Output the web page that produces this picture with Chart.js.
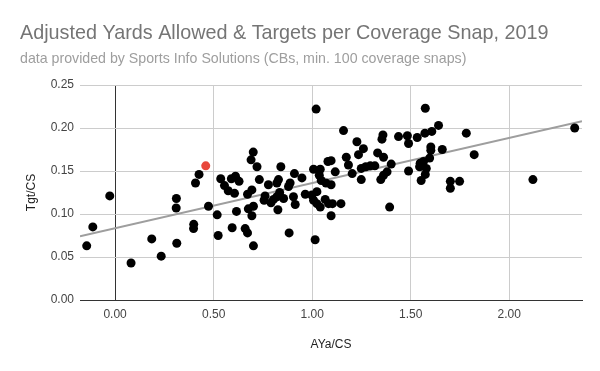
<!DOCTYPE html>
<html>
<head>
<meta charset="utf-8">
<title>AYa/CS vs Tgt/CS</title>
<script src="https://cdn.jsdelivr.net/npm/chart.js@4.4.1/dist/chart.umd.min.js"></script>
<style>
  html, body { margin: 0; padding: 0; background: #fff; }
  #wrap { width: 600px; height: 371px; }
</style>
</head>
<body>
<div id="wrap"><canvas id="coverageChart" width="600" height="371"></canvas></div>
<script>
// Chart text
const chartTitle = 'Adjusted Yards Allowed & Targets per Coverage Snap, 2019';
const chartSubtitle = 'data provided by Sports Info Solutions (CBs, min. 100 coverage snaps)';
const xTitle = 'AYa/CS';
const yTitle = 'Tgt/CS';

// Axis ranges / tick steps
const xMin = -0.178, xMax = 2.369, xStep = 0.5;
const yMin = 0, yMax = 0.25, yStep = 0.05;

// Adjusted yards allowed per coverage snap (x) and targets per coverage snap (y), one per CB
const ayaPerCs = [
    -0.144, -0.113, -0.027, 0.081, 0.186, 0.234, 0.311, 0.310, 0.313, 0.399,
    0.398, 0.408, 0.426, 0.474, 0.518, 0.523, 0.536, 0.555, 0.574, 0.590,
    0.611, 0.629, 0.606, 0.594, 0.616, 0.660, 0.672, 0.672, 0.694, 0.690,
    0.701, 0.676, 0.702, 0.694, 0.702, 0.720, 0.732, 0.761, 0.756, 0.778,
    0.791, 0.804, 0.821, 0.829, 0.841, 0.835, 0.826, 0.821, 0.855, 0.880,
    0.888, 0.905, 0.910, 0.914, 0.948, 0.883, 0.965, 0.998, 1.007, 1.015,
    1.020, 1.024, 1.007, 1.024, 1.041, 1.066, 1.083, 1.041, 1.036, 1.046,
    1.070, 1.080, 1.096, 1.096, 1.117, 1.103, 1.146, 1.096, 1.159, 1.173,
    1.184, 1.203, 1.227, 1.260, 1.235, 1.249, 1.249, 1.272, 1.295, 1.318,
    1.332, 1.362, 1.359, 1.354, 1.401, 1.380, 1.362, 1.348, 1.393, 1.438,
    1.483, 1.489, 1.533, 1.489, 1.574, 1.572, 1.607, 1.641, 1.602, 1.602,
    1.660, 1.596, 1.565, 1.548, 1.545, 1.579, 1.574, 1.553, 1.701, 1.748,
    1.701, 1.782, 1.822, 2.120, 2.332
];
const tgtPerCs = [
    0.063, 0.085, 0.121, 0.043, 0.071, 0.051, 0.118, 0.107, 0.066, 0.088,
    0.083, 0.136, 0.146, 0.109, 0.099, 0.075, 0.141, 0.133, 0.127, 0.141,
    0.144, 0.138, 0.124, 0.084, 0.103, 0.083, 0.078, 0.123, 0.128, 0.163,
    0.172, 0.106, 0.109, 0.098, 0.063, 0.155, 0.140, 0.121, 0.116, 0.134,
    0.113, 0.117, 0.136, 0.140, 0.155, 0.125, 0.105, 0.120, 0.118, 0.132,
    0.136, 0.120, 0.147, 0.111, 0.142, 0.078, 0.123, 0.122, 0.152, 0.070,
    0.222, 0.126, 0.116, 0.112, 0.108, 0.117, 0.112, 0.152, 0.145, 0.139,
    0.136, 0.161, 0.162, 0.134, 0.149, 0.112, 0.112, 0.098, 0.197, 0.166,
    0.157, 0.147, 0.184, 0.176, 0.169, 0.140, 0.153, 0.155, 0.156, 0.156,
    0.171, 0.166, 0.192, 0.187, 0.158, 0.149, 0.145, 0.140, 0.108, 0.190,
    0.191, 0.182, 0.189, 0.150, 0.223, 0.194, 0.196, 0.203, 0.178, 0.174,
    0.175, 0.165, 0.161, 0.159, 0.155, 0.153, 0.146, 0.139, 0.138, 0.138,
    0.130, 0.194, 0.169, 0.140, 0.200
];

// Highlighted player (red dot)
const highlightX = [0.460];
const highlightY = [0.156];

// Build point objects for the library
const basePoints = ayaPerCs.map((x, i) => ({ x: x, y: tgtPerCs[i] }));
const redPoints = highlightX.map((x, i) => ({ x: x, y: highlightY[i] }));

// Linear trendline (least squares over every player)
function linearFit(points) {
    const n = points.length;
    let sx = 0, sy = 0, sxx = 0, sxy = 0;
    points.forEach(p => {
        sx += p.x; sy += p.y; sxx += p.x * p.x; sxy += p.x * p.y;
    });
    const slope = (n * sxy - sx * sy) / (n * sxx - sx * sx);
    const intercept = (sy - slope * sx) / n;
    return { slope, intercept };
}
const fit = linearFit(basePoints.concat(redPoints));
const trendPoints = [xMin, xMax].map(x => ({ x: x, y: fit.intercept + fit.slope * x }));

const fontFamily = "'Liberation Sans', Arial, sans-serif";

// Title, subtitle and axis titles drawn at fixed spots
const textPlugin = {
    id: 'textPlugin',
    afterDraw(chart) {
        const ctx = chart.ctx;
        const area = chart.chartArea;
        ctx.save();
        ctx.textBaseline = 'alphabetic';
        ctx.textAlign = 'left';
        ctx.fillStyle = '#757575';
        ctx.font = '19.8px ' + fontFamily;
        ctx.fillText(chartTitle, 20, 39);
        ctx.fillStyle = '#9e9e9e';
        ctx.font = '14.2px ' + fontFamily;
        ctx.fillText(chartSubtitle, 20, 63);

        ctx.fillStyle = '#222';
        ctx.font = '12px ' + fontFamily;
        ctx.textAlign = 'center';
        ctx.textBaseline = 'middle';
        ctx.fillText(xTitle, (area.left + area.right) / 2, 345);
        ctx.translate(32, (area.top + area.bottom) / 2);
        ctx.rotate(-Math.PI / 2);
        ctx.fillText(yTitle, 0, 0);
        ctx.restore();
    }
};

const ctx = document.getElementById('coverageChart').getContext('2d');
const coverageChart = new Chart(ctx, {
    type: 'scatter',
    data: {
        datasets: [
            {
                label: 'Highlight',
                data: redPoints,
                backgroundColor: '#e8473b',
                borderWidth: 0,
                pointRadius: 4.5,
                order: 0
            },
            {
                label: 'CBs',
                data: basePoints,
                backgroundColor: '#000',
                borderWidth: 0,
                pointRadius: 4.5,
                order: 1
            },
            {
                label: 'Trendline',
                data: trendPoints,
                showLine: true,
                borderColor: '#9e9e9e',
                borderWidth: 2,
                pointRadius: 0,
                fill: false,
                order: 2
            }
        ]
    },
    options: {
        responsive: false,
        animation: false,
        layout: { padding: { top: 85, right: 18, left: 0, bottom: 0 } },
        plugins: {
            legend: { display: false },
            tooltip: { enabled: false },
            title: { display: false }
        },
        scales: {
            x: {
                type: 'linear',
                min: xMin,
                max: xMax,
                afterFit(scale) { scale.height = 71; },
                ticks: {
                    stepSize: xStep,
                    includeBounds: false,
                    padding: 7,
                    color: '#444',
                    font: { family: fontFamily, size: 12 },
                    callback: v => Number(v).toFixed(2)
                },
                grid: {
                    drawTicks: false,
                    color: c => (c.tick && c.tick.value === 0 ? '#333' : '#ccc'),
                    lineWidth: 1
                },
                border: { display: true, color: '#333', width: 1 }
            },
            y: {
                min: yMin,
                max: yMax,
                afterFit(scale) { scale.width = 80; },
                ticks: {
                    stepSize: yStep,
                    padding: 6,
                    color: '#444',
                    font: { family: fontFamily, size: 12 },
                    callback: v => Number(v).toFixed(2)
                },
                grid: {
                    drawTicks: false,
                    color: c => (c.tick && c.tick.value === 0 ? '#333' : '#ccc'),
                    lineWidth: 1
                },
                border: { display: false }
            }
        }
    },
    plugins: [textPlugin]
});
</script>
</body>
</html>
